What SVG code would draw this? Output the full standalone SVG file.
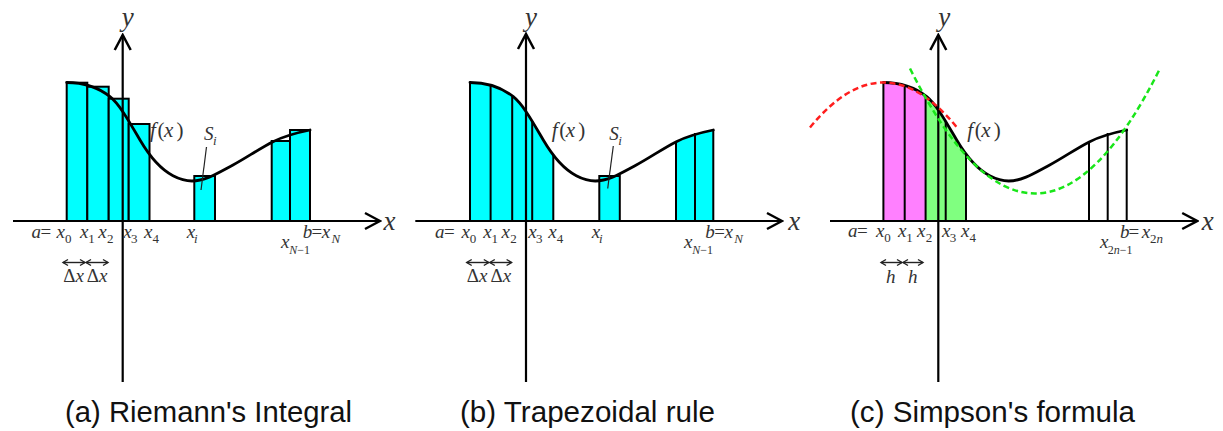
<svg xmlns="http://www.w3.org/2000/svg" xmlns:xlink="http://www.w3.org/1999/xlink" width="1223" height="431" viewBox="0 0 1223 431">
<style>
.bar{fill:#00ffff;stroke:#000;stroke-width:2}
.ax{fill:none;stroke:#000;stroke-width:2.2;marker-end:url(#axh)}
.crv{fill:none;stroke:#000;stroke-width:2.8;stroke-linecap:round}
.vl{stroke:#000;stroke-width:2}
.dim{stroke:#222;stroke-width:1.4;marker-start:url(#sm);marker-end:url(#sm)}
.pt{stroke:#222;stroke-width:1.2}
text.m{font-family:'Liberation Serif','Times New Roman','DejaVu Serif',serif;font-style:italic;font-size:19px;fill:#333}
tspan.up{font-style:normal}
tspan.sub{font-size:13px}
tspan.ss{font-size:12px}
text.big{font-size:27px}
text.fx{font-size:21px}
text.cap{font-family:'Liberation Sans',Arial,sans-serif;font-size:29px;fill:#111}
.red{fill:none;stroke:#ff1e1e;stroke-width:2.5;stroke-dasharray:6 3.5}
.grn{fill:none;stroke:#19e619;stroke-width:2.5;stroke-dasharray:6 3.5}
</style>
<defs>
<marker id="axh" viewBox="-18 -10 20 20" refX="0" refY="0" markerWidth="20" markerHeight="20" markerUnits="userSpaceOnUse" orient="auto"><path d="M-15,-8 L0,0 L-15,8" fill="none" stroke="#000" stroke-width="2.5"/></marker>
<marker id="sm" viewBox="-7 -5 9 10" refX="0" refY="0" markerWidth="9" markerHeight="10" markerUnits="userSpaceOnUse" orient="auto-start-reverse"><path d="M-5,-3 L0,0 L-5,3" fill="none" stroke="#222" stroke-width="1.4"/></marker>
<path id="curve" d="M66.7,82.5 C81.1,82.5 95.6,85.2 110,96.7 C120,104.7 130,123 140,140 C151,158.7 162,170 173,175.7 C179.3,179 185.7,181 192,181 C205.7,181 219.3,172.2 233,165 C246.3,157.9 259.7,148.4 273,141.7 C285.3,135.5 297.7,132.5 310,130"/>
<path id="area" d="M66.7,221 L66.7,82.5 C81.1,82.5 95.6,85.2 110,96.7 C120,104.7 130,123 140,140 C151,158.7 162,170 173,175.7 C179.3,179 185.7,181 192,181 C205.7,181 219.3,172.2 233,165 C246.3,157.9 259.7,148.4 273,141.7 C285.3,135.5 297.7,132.5 310,130 L310,221 Z"/>
<clipPath id="clipB" clipPathUnits="userSpaceOnUse"><rect x="66.7" y="0" width="83.3" height="230"/><rect x="272.7" y="0" width="37.3" height="230"/></clipPath>
<clipPath id="clipM" clipPathUnits="userSpaceOnUse"><rect x="66.7" y="0" width="42.2" height="230"/></clipPath>
<clipPath id="clipG" clipPathUnits="userSpaceOnUse"><rect x="108.9" y="0" width="40.4" height="230"/></clipPath>
</defs>

<!-- (a) Riemann's Integral -->
<g id="panel-a">
  <g id="bars-a">
    <rect class="bar" x="66.7" y="82.7" width="20.6" height="138.3"/>
    <rect class="bar" x="87.3" y="86.7" width="21.4" height="134.3"/>
    <rect class="bar" x="108.7" y="98.7" width="20" height="122.3"/>
    <rect class="bar" x="128.7" y="124" width="20.8" height="97"/>
    <rect class="bar" x="194.3" y="176" width="20.7" height="45"/>
    <rect class="bar" x="271.7" y="141" width="18.3" height="80"/>
    <rect class="bar" x="290" y="130" width="20" height="91"/>
  </g>
  <g id="axes-a">
    <path class="ax" d="M13,221 H380"/>
    <path class="ax" d="M122.7,382 V35"/>
  </g>
  <use href="#curve" class="crv"/>
  <g id="dims-a">
    <path class="dim" d="M63,262.5 H85"/>
    <path class="dim" d="M86,262.5 H108"/>
    <path class="pt" d="M206.5,147 L201,190"/>
  </g>
  <g id="labels-a">
    <text class="m big" x="121.7" y="26">y</text>
    <text class="m big" x="383.5" y="230">x</text>
    <text class="m fx" y="136.5"><tspan x="150">f</tspan><tspan class="up" x="157.5">(</tspan><tspan x="164">x</tspan><tspan class="up" x="176.5">)</tspan></text>
    <text class="m" y="140"><tspan x="204">S</tspan><tspan class="sub" x="213" y="145">i</tspan></text>
    <text class="m" y="237.5"><tspan x="31.5">a</tspan><tspan class="up" x="40.5">=</tspan><tspan x="56.5">x</tspan><tspan class="sub up" x="65" y="242.5">0</tspan></text>
    <text class="m" y="237.5"><tspan x="80">x</tspan><tspan class="sub up" x="88.3" y="242.5">1</tspan></text>
    <text class="m" y="237.5"><tspan x="98.3">x</tspan><tspan class="sub up" x="107" y="242.5">2</tspan></text>
    <text class="m" y="237.5"><tspan x="123.3">x</tspan><tspan class="sub up" x="131" y="242.5">3</tspan></text>
    <text class="m" y="237.5"><tspan x="144">x</tspan><tspan class="sub up" x="152.5" y="242.5">4</tspan></text>
    <text class="m" y="237.5"><tspan x="186.7">x</tspan><tspan class="sub" x="194" y="242.5">i</tspan></text>
    <text class="m" y="248"><tspan x="281">x</tspan><tspan class="ss" x="289.3" y="253.5">N</tspan><tspan class="ss up">−1</tspan></text>
    <text class="m" y="238"><tspan x="302.7">b</tspan><tspan class="up" x="311.5">=</tspan><tspan x="321.7">x</tspan><tspan class="sub" x="331.5" y="242.5">N</tspan></text>
    <text class="m" y="281.5"><tspan class="up" x="63.3">Δ</tspan><tspan>x</tspan></text>
    <text class="m" y="281.5"><tspan class="up" x="86.7">Δ</tspan><tspan>x</tspan></text>
  </g>
</g>

<!-- (b) Trapezoidal rule -->
<g id="panel-b" transform="translate(403.3,0)">
  <g id="bars-b">
    <use href="#area" fill="#00ffff" clip-path="url(#clipB)"/>
    <rect class="bar" x="196" y="176" width="20.5" height="45"/>
    <path class="vl" d="M66.7,221 V82.5 M87.3,221 V85.3 M108.9,221 V96.2 M128.9,221 V121 M150,221 V155 M272.7,221 V141 M291.7,221 V133 M310,221 V130"/>
  </g>
  <g id="axes-b">
    <path class="ax" d="M12,221 H378.7"/>
    <path class="ax" d="M122.7,382 V34"/>
  </g>
  <use href="#curve" class="crv"/>
  <g id="dims-b">
    <path class="dim" d="M63.4,262.5 H85.5"/>
    <path class="dim" d="M86.5,262.5 H108.3"/>
    <path class="pt" d="M210,146 L204.4,188.5"/>
  </g>
  <g id="labels-b">
    <text class="m big" x="121.7" y="26">y</text>
    <text class="m big" x="385" y="230">x</text>
    <text class="m fx" y="137"><tspan x="148.5">f</tspan><tspan class="up" x="156">(</tspan><tspan x="162.5">x</tspan><tspan class="up" x="175">)</tspan></text>
    <text class="m" y="139.5"><tspan x="206">S</tspan><tspan class="sub" x="215" y="144.5">i</tspan></text>
    <text class="m" y="237.5"><tspan x="31.7">a</tspan><tspan class="up" x="40.7">=</tspan><tspan x="58.3">x</tspan><tspan class="sub up" x="66.5" y="242.5">0</tspan></text>
    <text class="m" y="237.5"><tspan x="80">x</tspan><tspan class="sub up" x="88.3" y="242.5">1</tspan></text>
    <text class="m" y="237.5"><tspan x="98.3">x</tspan><tspan class="sub up" x="107" y="242.5">2</tspan></text>
    <text class="m" y="237.5"><tspan x="125">x</tspan><tspan class="sub up" x="132.7" y="242.5">3</tspan></text>
    <text class="m" y="237.5"><tspan x="145">x</tspan><tspan class="sub up" x="153.5" y="242.5">4</tspan></text>
    <text class="m" y="237.5"><tspan x="188.5">x</tspan><tspan class="sub" x="195.8" y="242.5">i</tspan></text>
    <text class="m" y="248"><tspan x="280.7">x</tspan><tspan class="ss" x="289" y="253.5">N</tspan><tspan class="ss up">−1</tspan></text>
    <text class="m" y="238"><tspan x="302">b</tspan><tspan class="up" x="311">=</tspan><tspan x="321.2">x</tspan><tspan class="sub" x="331" y="242.5">N</tspan></text>
    <text class="m" y="281.5"><tspan class="up" x="63.4">Δ</tspan><tspan>x</tspan></text>
    <text class="m" y="281.5"><tspan class="up" x="87.3">Δ</tspan><tspan>x</tspan></text>
  </g>
</g>

<!-- (c) Simpson's formula -->
<g id="panel-c" transform="translate(816.7,0)">
  <g id="fills-c">
    <use href="#area" fill="#ff80ff" clip-path="url(#clipM)"/>
    <use href="#area" fill="#80ff80" clip-path="url(#clipG)"/>
    <path class="vl" d="M66.7,221 V82.5 M88,221 V85.4 M108.9,221 V96.2 M129,221 V121 M149.3,221 V154 M272.3,221 V141.5 M291,221 V133 M310,221 V130"/>
  </g>
  <g id="axes-c">
    <path class="ax" d="M13.3,221 H380.5"/>
    <path class="ax" d="M121.6,382 V35"/>
  </g>
  <use href="#curve" class="crv"/>
  <g id="parabolas-c">
    <path class="red" d="M-6.7,127.5 Q66.8,37.5 140.3,127.5"/>
    <path class="grn" d="M93.3,68.5 Q218.3,318.5 343.3,68.5"/>
  </g>
  <g id="dims-c">
    <path class="dim" d="M64.3,262.5 H85.3"/>
    <path class="dim" d="M86.3,262.5 H106.3"/>
  </g>
  <g id="labels-c">
    <text class="m big" x="121.6" y="26">y</text>
    <text class="m big" x="385" y="230">x</text>
    <text class="m fx" y="136.7"><tspan x="150.6">f</tspan><tspan class="up" x="158">(</tspan><tspan x="164.5">x</tspan><tspan class="up" x="177">)</tspan></text>
    <text class="m" y="237"><tspan x="31.3">a</tspan><tspan class="up" x="40.3">=</tspan><tspan x="59.3">x</tspan><tspan class="sub up" x="67.5" y="242">0</tspan></text>
    <text class="m" y="237"><tspan x="81.3">x</tspan><tspan class="sub up" x="89.5" y="242">1</tspan></text>
    <text class="m" y="237"><tspan x="100.3">x</tspan><tspan class="sub up" x="109" y="242">2</tspan></text>
    <text class="m" y="237"><tspan x="125.3">x</tspan><tspan class="sub up" x="133" y="242">3</tspan></text>
    <text class="m" y="237"><tspan x="144.3">x</tspan><tspan class="sub up" x="152.8" y="242">4</tspan></text>
    <text class="m" y="248"><tspan x="283.3">x</tspan><tspan class="ss up" x="291" y="253.5">2</tspan><tspan class="ss">n</tspan><tspan class="ss up">−1</tspan></text>
    <text class="m" y="238"><tspan x="303.3">b</tspan><tspan class="up" x="311.8">=</tspan><tspan x="325">x</tspan><tspan class="sub up" x="333.3" y="242.5">2</tspan><tspan class="sub">n</tspan></text>
    <text class="m" y="283"><tspan x="69.3">h</tspan></text>
    <text class="m" y="283"><tspan x="91.3">h</tspan></text>
  </g>
</g>

<g id="captions">
  <text class="cap" x="65" y="422" textLength="287" lengthAdjust="spacingAndGlyphs">(a) Riemann's Integral</text>
  <text class="cap" x="460" y="422" textLength="255" lengthAdjust="spacingAndGlyphs">(b) Trapezoidal rule</text>
  <text class="cap" x="850" y="422" textLength="285" lengthAdjust="spacingAndGlyphs">(c) Simpson's formula</text>
</g>
</svg>
